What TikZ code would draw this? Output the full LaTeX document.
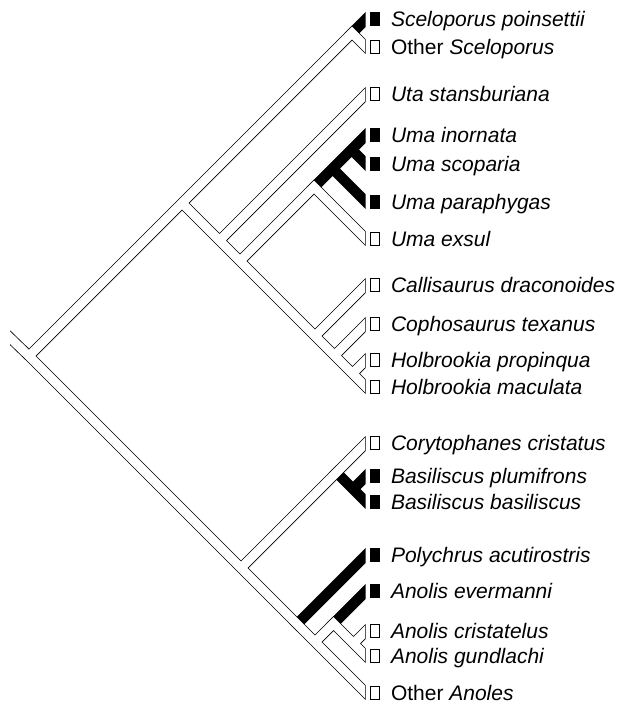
\documentclass[tikz,border=0pt]{standalone}
\usepackage{fontspec}
\setmainfont{Liberation Sans}
\usetikzlibrary{positioning}

\begin{document}
\begin{tikzpicture}[
  x=1pt,y=-1pt,
  band/.style={line width=10.6pt,line cap=rect},
  hollow/.style={white,line width=9pt,line cap=rect},
  box/.style={draw,line width=0.8pt,minimum width=9pt,minimum height=13pt,inner sep=0pt},
  boxf/.style={box,fill=black},
  sp/.style={inner sep=0pt,text height=14.5pt,text depth=0pt,font=\fontsize{21}{25}\selectfont\itshape},
  other/.style={sp,font=\fontsize{21}{25}\selectfont}
]
\useasboundingbox (0,0) rectangle (623,704);
% ---------- tips ----------
\coordinate (spoin) at (366,19);
\coordinate (osce)  at (366,47);
\coordinate (uta)   at (366,94);
\coordinate (uinor) at (366,135);
\coordinate (uscop) at (366,164);
\coordinate (upara) at (366,202);
\coordinate (uexs)  at (366,239);
\coordinate (calli) at (366,285);
\coordinate (copho) at (366,324);
\coordinate (hprop) at (366,360);
\coordinate (hmac)  at (366,387);
\coordinate (coryt) at (366,443);
\coordinate (bplum) at (366,476);
\coordinate (bbas)  at (366,502);
\coordinate (polyc) at (366,555);
\coordinate (aever) at (366,591);
\coordinate (acris) at (366,631);
\coordinate (agund) at (366,656);
\coordinate (oanol) at (366,693);
% ---------- internal nodes ----------
\coordinate (stem)  at (0,328);
\coordinate (root)  at (29,356);
\coordinate (phry)  at (182,203);
\coordinate (scel)  at (352,33);
\coordinate (utab)  at (219.5,240.5);
\coordinate (umab)  at (240,261);
\coordinate (uma)   at (314,187);
\coordinate (uma1)  at (332.5,168.5);
\coordinate (uma2)  at (351.5,149.5);
\coordinate (sand)  at (315,336);
\coordinate (sand1) at (334.5,355.5);
\coordinate (holb)  at (352.5,373.5);
\coordinate (poly)  at (241,568);
\coordinate (cory)  at (336.5,472.5);
\coordinate (basil) at (353,489);
\coordinate (anol)  at (297,624);
\coordinate (anol1) at (315,642);
\coordinate (anol2) at (333.5,623.5);
\coordinate (anol3) at (353.5,643.5);
% ---------- branches: outlines and filled ----------
\begin{scope}
  \clip (10,0) rectangle (365.6,704);
  \draw[band] (stem) -- (root) (root) -- (phry) (phry) -- (scel) (scel) -- (osce)
    (phry) -- (utab) (utab) -- (uta) (utab) -- (umab) (umab) -- (uma) (uma) -- (uexs)
    (umab) -- (sand) (sand) -- (calli) (sand) -- (sand1) (sand1) -- (copho)
    (sand1) -- (holb) (holb) -- (hprop) (holb) -- (hmac)
    (root) -- (poly) (poly) -- (cory) (cory) -- (coryt) (poly) -- (anol)
    (anol) -- (anol1) (anol1) -- (anol2) (anol2) -- (anol3) (anol3) -- (acris)
    (anol3) -- (agund) (anol1) -- (oanol);
  \draw[band] (scel) -- (spoin)
    (uma) -- (uma1) (uma1) -- (uma2) (uma2) -- (uinor) (uma2) -- (uscop) (uma1) -- (upara)
    (cory) -- (basil) (basil) -- (bplum) (basil) -- (bbas)
    (anol) -- (polyc) (anol2) -- (aever);
\end{scope}
% ---------- branches: hollow insides ----------
\begin{scope}
  \clip (10,0) rectangle (364.8,704);
  \draw[hollow] (stem) -- (root) (root) -- (phry) (phry) -- (scel) (scel) -- (osce)
    (phry) -- (utab) (utab) -- (uta) (utab) -- (umab) (umab) -- (uma) (uma) -- (uexs)
    (umab) -- (sand) (sand) -- (calli) (sand) -- (sand1) (sand1) -- (copho)
    (sand1) -- (holb) (holb) -- (hprop) (holb) -- (hmac)
    (root) -- (poly) (poly) -- (cory) (cory) -- (coryt) (poly) -- (anol)
    (anol) -- (anol1) (anol1) -- (anol2) (anol2) -- (anol3) (anol3) -- (acris)
    (anol3) -- (agund) (anol1) -- (oanol);
\end{scope}
% ---------- taxa ----------
\node[boxf,right=4pt of spoin] (bspoin) {};
\node[sp,right=11pt of bspoin] (lspoin) {Sceloporus poinsettii};
\node[box,right=4pt of osce] (bosce) {};
\node[other,right=11pt of bosce] (losce) {Other \textit{Sceloporus}};
\node[box,right=4pt of uta] (buta) {};
\node[sp,right=11pt of buta] (luta) {Uta stansburiana};
\node[boxf,right=4pt of uinor] (buinor) {};
\node[sp,right=11pt of buinor] (luinor) {Uma inornata};
\node[boxf,right=4pt of uscop] (buscop) {};
\node[sp,right=11pt of buscop] (luscop) {Uma scoparia};
\node[boxf,right=4pt of upara] (bupara) {};
\node[sp,right=11pt of bupara] (lupara) {Uma paraphygas};
\node[box,right=4pt of uexs] (buexs) {};
\node[sp,right=11pt of buexs] (luexs) {Uma exsul};
\node[box,right=4pt of calli] (bcalli) {};
\node[sp,right=11pt of bcalli] (lcalli) {Callisaurus draconoides};
\node[box,right=4pt of copho] (bcopho) {};
\node[sp,right=11pt of bcopho] (lcopho) {Cophosaurus texanus};
\node[box,right=4pt of hprop] (bhprop) {};
\node[sp,right=11pt of bhprop] (lhprop) {Holbrookia propinqua};
\node[box,right=4pt of hmac] (bhmac) {};
\node[sp,right=11pt of bhmac] (lhmac) {Holbrookia maculata};
\node[box,right=4pt of coryt] (bcoryt) {};
\node[sp,right=11pt of bcoryt] (lcoryt) {Corytophanes cristatus};
\node[boxf,right=4pt of bplum] (bbplum) {};
\node[sp,right=11pt of bbplum] (lbplum) {Basiliscus plumifrons};
\node[boxf,right=4pt of bbas] (bbbas) {};
\node[sp,right=11pt of bbbas] (lbbas) {Basiliscus basiliscus};
\node[boxf,right=4pt of polyc] (bpolyc) {};
\node[sp,right=11pt of bpolyc] (lpolyc) {Polychrus acutirostris};
\node[boxf,right=4pt of aever] (baever) {};
\node[sp,right=11pt of baever] (laever) {Anolis evermanni};
\node[box,right=4pt of acris] (bacris) {};
\node[sp,right=11pt of bacris] (lacris) {Anolis cristatelus};
\node[box,right=4pt of agund] (bagund) {};
\node[sp,right=11pt of bagund] (lagund) {Anolis gundlachi};
\node[box,right=4pt of oanol] (boanol) {};
\node[other,right=11pt of boanol] (loanol) {Other \textit{Anoles}};
\end{tikzpicture}
\end{document}
